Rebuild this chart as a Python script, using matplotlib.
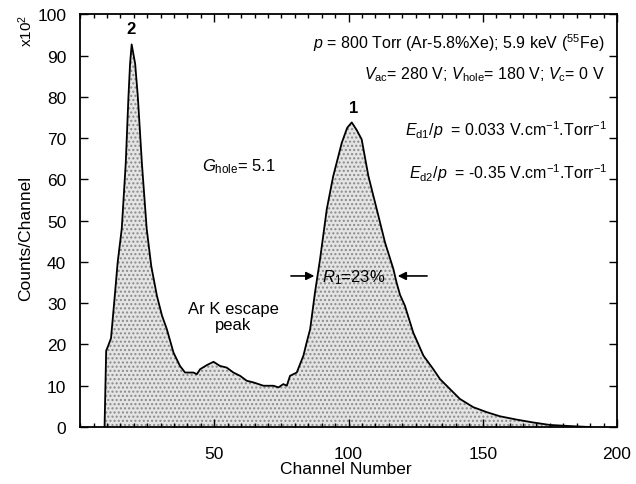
import numpy as np
import matplotlib
matplotlib.use("Agg")
import matplotlib.pyplot as plt
from matplotlib.ticker import MultipleLocator

plt.rcParams['font.family'] = ['Liberation Sans', 'DejaVu Sans']
plt.rcParams['mathtext.fontset'] = 'custom'
plt.rcParams['mathtext.rm'] = 'Liberation Sans'
plt.rcParams['mathtext.it'] = 'Liberation Sans:italic'
plt.rcParams['hatch.color'] = '#8a8a8a'

# spectrum (channel, counts x10^2)
channel = [9.1, 9.7, 10.4, 11.5, 12.8, 14, 15.5, 17, 18, 18.6, 19.2, 20.5, 21.5, 23, 24.8,
           26.5, 28.6, 30.5, 32.3, 34.8, 37.2, 39.1, 42.2, 43.5, 44.7, 47.2, 49.7, 52.1,
           54.6, 57.1, 59.6, 62.1, 64.6, 68.3, 72, 73.9, 75.7, 77, 78.2, 80.7, 83.2, 84.4,
           85.7, 87.5, 89.4, 91.9, 94.3, 97.5, 99.5, 101.2, 103, 104.9, 107.4, 110.5,
           113.6, 116.7, 117.9, 119.2, 121, 124.1, 127.9, 131.6, 134.1, 137.8, 141.5,
           146.5, 151.5, 156.4, 162.6, 168.8, 175, 183.4, 190]
counts = [0, 18.5, 19.6, 21.5, 31, 40, 48, 64, 80, 88, 92.7, 88, 80, 64, 48,
          39, 31.8, 27, 23.7, 18, 14.8, 13.2, 13.2, 12.8, 14, 15, 15.8, 14.8,
          14.4, 13.2, 12.4, 11.2, 10.8, 10, 10, 9.6, 10.4, 10, 12.4, 13.2, 17.3, 20.5,
          23.7, 32.6, 40.7, 52.8, 60.8, 68.9, 72.5, 73.8, 72, 69.7, 60.8, 52.8,
          44.7, 38.3, 35, 32, 29.4, 22.9, 17.3, 14, 11.6, 9.2, 6.8,
          4.8, 3.6, 2.6, 1.8, 1.1, 0.5, 0.2, 0]

fig = plt.figure(figsize=(6.36, 4.85), dpi=100)
ax = fig.add_axes([0.126, 0.1175, 0.844, 0.851])

ax.fill_between(channel, counts, 0, facecolor='#e4e4e4', hatch='....', linewidth=0)
ax.plot(channel, counts, color='black', lw=1.3)

ax.set_xlim(0, 200)
ax.set_ylim(0, 100)
ax.xaxis.set_major_locator(MultipleLocator(50))
ax.xaxis.set_minor_locator(MultipleLocator(5))
ax.yaxis.set_major_locator(MultipleLocator(10))
ax.tick_params(which='both', direction='in', top=True, right=True, labelsize=12.5, width=1)
ax.tick_params(which='major', length=6)
ax.tick_params(which='minor', length=3)
ax.tick_params(axis='x', pad=14)
ax.tick_params(axis='y', pad=10)
ax.set_xticks([50, 100, 150, 200])
for s in ax.spines.values():
    s.set_linewidth(1.3)

ax.set_xlabel('Channel Number', fontsize=12.5)
ax.set_ylabel('Counts/Channel', fontsize=12.5)
ax.xaxis.set_label_coords(0.495, -0.083)
ax.yaxis.set_label_coords(-0.088, 0.46)
fig.text(0.04, 0.97, r'x10$^2$', rotation=90, fontsize=11, ha='center', va='top')

ax.text(19, 96.5, '2', fontsize=12, fontweight='bold', ha='center', va='center')
ax.text(101.8, 77.5, '1', fontsize=12, fontweight='bold', ha='center', va='center')

ax.text(195.5, 93.2, r'$p$ = 800 Torr (Ar-5.8%Xe); 5.9 keV ($^{55}$Fe)', fontsize=11.5,
        ha='right', va='center')
ax.text(195.5, 85.5, r'$V_{\rm ac}$= 280 V; $V_{\rm hole}$= 180 V; $V_{\rm c}$= 0 V', fontsize=11.5,
        ha='right', va='center')
ax.text(196.5, 72.2, r'$E_{\rm d1}/p$  = 0.033 V.cm$^{-1}$.Torr$^{-1}$', fontsize=11.5,
        ha='right', va='center')
ax.text(196.5, 61.7, r'$E_{\rm d2}/p$  = -0.35 V.cm$^{-1}$.Torr$^{-1}$', fontsize=11.5,
        ha='right', va='center')
ax.text(45.3, 63.3, r'$G_{\rm hole}$= 5.1', fontsize=12, ha='left', va='center')
ax.text(57, 26.8, 'Ar K escape\npeak', fontsize=12, ha='center', va='center', linespacing=1.1)
ax.text(90, 36.4, r'$R_1$=23%', fontsize=12, ha='left', va='center')

ax.annotate('', xy=(88.3, 36.6), xytext=(77.5, 36.6),
            arrowprops=dict(arrowstyle='-|>', color='black', lw=1.2, mutation_scale=12))
ax.annotate('', xy=(117.3, 36.6), xytext=(130.3, 36.6),
            arrowprops=dict(arrowstyle='-|>', color='black', lw=1.2, mutation_scale=12))

fig.savefig('out.png', dpi=100)
